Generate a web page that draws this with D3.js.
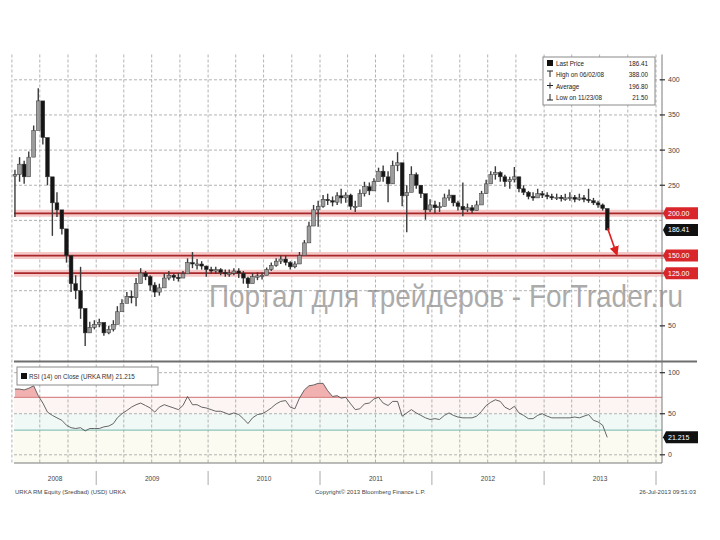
<!DOCTYPE html>
<html><head><meta charset="utf-8">
<script src="https://cdn.jsdelivr.net/npm/d3@7"></script>
<style>body{margin:0;background:#fff} svg{display:block} text{font-family:"Liberation Sans",Arial,sans-serif}</style>
</head><body><svg id="c" width="720" height="540"></svg>
<script>
// ---- data (semi-monthly bars, Apr 2008 - Jul 2013) ----
const priceHigh=[272,290,285,298,335,388,350,300,258,240,
208,185,132,122,134,60,56,58,60,50,
50,58,78,88,98,100,118,132,128,122,
112,110,124,128,124,125,128,146,155,145,
142,136,134,134,132,130,130,132,132,128,
120,125,126,126,133,140,146,150,150,142,
142,155,172,198,222,228,236,238,234,240,
245,240,238,228,244,255,254,260,275,278,
270,285,297,280,250,277,268,250,235,230,
228,226,238,244,232,228,254,224,222,228,
242,258,270,277,270,265,262,276,262,250,
242,240,245,242,240,238,238,236,238,240,
236,238,236,245,232,228,224,216];
const priceLow=[205,255,252,272,300,345,308,250,178,205,
180,140,98,88,60,21.5,40,45,48,36,
38,42,60,72,86,82,78,112,115,100,
91,93,108,115,114,113,118,125,132,130,
130,120,124,124,122,120,120,122,118,110,
104,112,115,116,122,128,134,138,136,130,
132,140,156,172,195,191,218,222,220,222,
224,225,215,212,222,234,236,242,258,255,
226,252,270,220,183,252,245,232,201,212,
210,212,220,228,220,214,206,212,210,214,
226,238,254,258,255,248,245,254,240,236,
230,228,232,232,230,229,229,227,228,228,
226,228,226,225,222,218,214,186];
const priceClose=[265,280,262,290,328,370,318,262,225,215,
188,150,110,100,75,40,48,52,55,40,
45,52,70,82,92,90,110,125,120,108,
98,104,118,122,119,118,124,140,138,138,
135,130,128,130,126,124,125,128,125,118,
110,120,121,122,130,136,142,145,140,134,
138,150,168,192,215,220,230,228,226,235,
232,236,220,220,238,248,242,255,270,262,
252,278,282,235,240,265,250,238,215,222,
218,220,232,236,225,220,215,218,214,222,
238,252,265,268,262,255,258,262,245,240,
234,232,238,236,234,232,233,231,232,233,
230,232,230,228,225,222,217,186.41];
const rsiValues=[80,80,79,81,84,72,63,52,48,45,
42,36,33,32,33,29,32,32,32,34,
35,38,45,50,54,58,61,63,60,57,
52,58,61,59,57,55,60,71,61,61,
58,57,55,53,53,51,49,51,49,44,
38,45,49,50,53,57,62,65,66,58,
56,69,79,84,85,87,87,78,71,72,
69,70,62,55,56,62,63,68,70,63,
60,65,65,47,51,55,51,48,45,43,
44,43,48,51,48,46,45,45,45,47,
53,60,64,67,65,58,55,59,51,48,
44,44,48,50,47,45,45,45,45,45,
46,45,47,49,42,40,36,21.215];
const priceTicks=[400,350,300,250,50];
const priceGrid=[50,100,150,200,250,300,350,400];
const rsiTicks=[100,50,0];
const levelValues=[210,150,125];
const levelLabels=["200.00","150.00","125.00"];
const lastPrice=186.41, lastRsi=21.215;
const yearLabels=["2008","2009","2010","2011","2012","2013"];
const legendRows=[["Last Price","186.41"],["High on 06/02/08","388.00"],["Average","196.80"],["Low on 11/23/08","21.50"]];

const dates=[];
d3.timeMonth.range(new Date(2008,3,1), new Date(2013,7,1)).forEach(m=>{
  dates.push(new Date(m.getFullYear(),m.getMonth(),11));
  dates.push(new Date(m.getFullYear(),m.getMonth(),26));
});

// ---- scales ----
const L=14, R=662, PT=54.5, PB=361, RT=362, RB=463;
const x=d3.scaleTime().domain([new Date(2008,0,1),new Date(2014,0,1)]).range([-16,656]);
const yP=d3.scaleLinear().domain([0,436]).range([PB,PT]);
const yR=d3.scaleLinear().domain([-10,113]).range([RB,RT]);

const svg=d3.select("#c");
svg.append("rect").attr("width",720).attr("height",540).attr("fill","#fff");

// RSI background bands
const bands=[[70,50,"#fdf4f4"],[50,30,"#f1f9f6"],[30,-10,"#fbfbf1"]];
svg.selectAll(".band").data(bands).join("rect")
  .attr("x",L).attr("width",R-L).attr("y",d=>yR(d[0])).attr("height",d=>yR(d[1])-yR(d[0])).attr("fill",d=>d[2]);

// grids
const gridCol="#a0a0a0";
svg.selectAll(".hg").data(priceGrid).join("line")
  .attr("x1",L).attr("x2",R).attr("y1",d=>yP(d)).attr("y2",d=>yP(d))
  .attr("stroke",gridCol).attr("stroke-width",0.8).attr("stroke-dasharray","3,2");
svg.selectAll(".hr").data(rsiTicks).join("line")
  .attr("x1",L).attr("x2",R).attr("y1",d=>yR(d)).attr("y2",d=>yR(d))
  .attr("stroke",gridCol).attr("stroke-width",0.8).attr("stroke-dasharray","3,2");
const quarters=d3.timeMonth.every(3).range(new Date(2008,3,1),new Date(2014,0,2));
svg.selectAll(".vg").data(quarters).join("line")
  .attr("x1",d=>x(d)).attr("x2",d=>x(d)).attr("y1",PT).attr("y2",RB)
  .attr("stroke",gridCol).attr("stroke-width",0.8).attr("stroke-dasharray","3,2");

// RSI 70/30 lines and fill above 70
svg.append("defs").append("clipPath").attr("id","ob").append("rect")
  .attr("x",L).attr("y",RT).attr("width",R-L).attr("height",yR(70)-RT);
const rsiArea=d3.area().x((d,i)=>x(dates[i])).y0(yR(70)).y1(d=>yR(d));
svg.append("path").datum(rsiValues).attr("d",rsiArea).attr("fill","#f2b1b1").attr("clip-path","url(#ob)");
svg.append("line").attr("x1",L).attr("x2",R).attr("y1",yR(70)).attr("y2",yR(70)).attr("stroke","#d98a8a").attr("stroke-width",1.2);
svg.append("line").attr("x1",L).attr("x2",R).attr("y1",yR(30)).attr("y2",yR(30)).attr("stroke","#8cc4b8").attr("stroke-width",1.2);
svg.append("path").datum(rsiValues).attr("fill","none").attr("stroke","#555").attr("stroke-width",0.9)
  .attr("d",d3.line().x((d,i)=>x(dates[i])).y(d=>yR(d)));

// level lines
levelValues.forEach(v=>{
  svg.append("line").attr("x1",L).attr("x2",R+2).attr("y1",yP(v)).attr("y2",yP(v)).attr("stroke","#f6c9c9").attr("stroke-width",7);
  svg.append("line").attr("x1",L).attr("x2",R+2).attr("y1",yP(v)).attr("y2",yP(v)).attr("stroke","#a9272b").attr("stroke-width",1.8);
});

// price bars
const bars=svg.append("g");
dates.forEach((d,i)=>{
  const cx=x(d), o=i>0?priceClose[i-1]:priceClose[i], c=priceClose[i];
  bars.append("line").attr("x1",cx).attr("x2",cx).attr("y1",yP(priceLow[i])).attr("y2",yP(priceHigh[i]))
    .attr("stroke","#3a3a3a").attr("stroke-width",1.4);
  const top=yP(Math.max(o,c)), h=Math.max(1.4,Math.abs(yP(o)-yP(c)));
  bars.append("rect").attr("x",cx-1.9).attr("width",3.8).attr("y",top).attr("height",h)
    .attr("fill",c<o?"#151515":"#9c9c9c").attr("stroke","#333").attr("stroke-width",0.5);
});

// frame
svg.append("line").attr("x1",L).attr("x2",697).attr("y1",PB+0.5).attr("y2",PB+0.5).attr("stroke","#6e6e6e").attr("stroke-width",1.8);
svg.append("line").attr("x1",L).attr("x2",R).attr("y1",RB).attr("y2",RB).attr("stroke","#7a7a7a").attr("stroke-width",1.2);
svg.append("line").attr("x1",R).attr("x2",R).attr("y1",PT).attr("y2",RB).attr("stroke","#7a7a7a").attr("stroke-width",1);

// right axis ticks
function rightTicks(vals,scale){
  vals.forEach(v=>{
    svg.append("line").attr("x1",R-2).attr("x2",R+3).attr("y1",scale(v)).attr("y2",scale(v)).attr("stroke","#333").attr("stroke-width",1.2);
    svg.append("text").attr("x",R+6).attr("y",scale(v)+2.5).attr("font-size",7).attr("fill","#444").text(v);
  });
}
rightTicks(priceTicks,yP); rightTicks(rsiTicks,yR);

// watermark (under the tags)
svg.append("text").attr("x",209).attr("y",307).attr("font-size",32)
  .attr("font-family","'Liberation Sans Narrow','Arial Narrow','Liberation Sans',sans-serif")
  .attr("textLength",474).attr("lengthAdjust","spacingAndGlyphs")
  .attr("fill","#8f8f8f").attr("opacity",0.75).text("Портал для трейдеров - ForTrader.ru");

// value tags
function tag(v,scale,label,col){
  const y=scale(v);
  svg.append("path").attr("d",`M${R+1},${y} L${R+4},${y-6} L${R+36},${y-6} L${R+36},${y+6} L${R+4},${y+6} Z`).attr("fill",col);
  svg.append("text").attr("x",R+6).attr("y",y+2.5).attr("font-size",7).attr("fill","#fff").text(label);
}
levelValues.forEach((v,i)=>tag(v,yP,levelLabels[i],"#d9262a"));
tag(lastPrice,yP,lastPrice.toFixed(2),"#111");
tag(lastRsi,yR,lastRsi.toFixed(3),"#111");

// legend
const lg=svg.append("g");
lg.append("rect").attr("x",543).attr("y",57).attr("width",112).attr("height",48).attr("fill","#fff").attr("stroke","#8a8a8a");
legendRows.forEach((r,i)=>{
  const y=66+i*11.3;
  lg.append("text").attr("x",556).attr("y",y).attr("font-size",6.3).attr("fill","#222").text(r[0]);
  lg.append("text").attr("x",648).attr("y",y).attr("text-anchor","end").attr("font-size",6.3).attr("fill","#222").text(r[1]);
});
lg.append("rect").attr("x",547).attr("y",60).attr("width",6).attr("height",6).attr("fill","#111");
lg.append("path").attr("d","M547,71 H553 M550,71 V77").attr("stroke","#222").attr("stroke-width",1);
lg.append("path").attr("d","M547,85.5 H553 M550,82.5 V88.5").attr("stroke","#222").attr("stroke-width",1);
lg.append("path").attr("d","M547,100 H553 M550,94 V100").attr("stroke","#222").attr("stroke-width",1);

// RSI legend
svg.append("rect").attr("x",17).attr("y",367).attr("width",141).attr("height",18).attr("fill","#fff").attr("stroke","#8a8a8a");
svg.append("rect").attr("x",21).attr("y",373).attr("width",6).attr("height",6).attr("fill","#111");
svg.append("text").attr("x",29).attr("y",378.5).attr("font-size",6.3).attr("fill","#333").text("RSI (14) on Close (URKA RM) 21.215");

// year axis
const years=d3.timeYear.range(new Date(2008,0,1),new Date(2014,0,2));
svg.selectAll(".ys").data(years.slice(1)).join("line")
  .attr("x1",d=>x(d)).attr("x2",d=>x(d)).attr("y1",471).attr("y2",485).attr("stroke","#aaa").attr("stroke-width",1);
yearLabels.forEach((t,i)=>{
  const a=Math.max(L,x(years[i])), b=Math.min(R,x(d3.timeYear.offset(years[i],1)));
  svg.append("text").attr("x",(a+b)/2).attr("y",481).attr("text-anchor","middle").attr("font-size",6.5).attr("fill","#444").text(t);
});

// footer
svg.append("text").attr("x",15).attr("y",494).attr("font-size",6).attr("fill","#444").text("URKA RM Equity (Sredbad) (USD) URKA");
svg.append("text").attr("x",315).attr("y",494).attr("font-size",6).attr("fill","#444").text("Copyright\u00A9 2013 Bloomberg Finance L.P.");
svg.append("text").attr("x",696).attr("y",494).attr("text-anchor","end").attr("font-size",6).attr("fill","#444").text("26-Jul-2013 09:51:03");

// arrow annotation
svg.append("defs").append("marker").attr("id","ah").attr("viewBox","0 0 10 10").attr("refX",8).attr("refY",5)
  .attr("markerWidth",6).attr("markerHeight",6).attr("orient","auto")
  .append("path").attr("d","M0,0 L10,5 L0,10 Z").attr("fill","#e0201e");
svg.append("line").attr("x1",x(new Date(2013,6,27))).attr("y1",yP(189)).attr("x2",x(new Date(2013,7,26))).attr("y2",yP(152))
  .attr("stroke","#e0201e").attr("stroke-width",1.6).attr("marker-end","url(#ah)");
</script></body></html>
